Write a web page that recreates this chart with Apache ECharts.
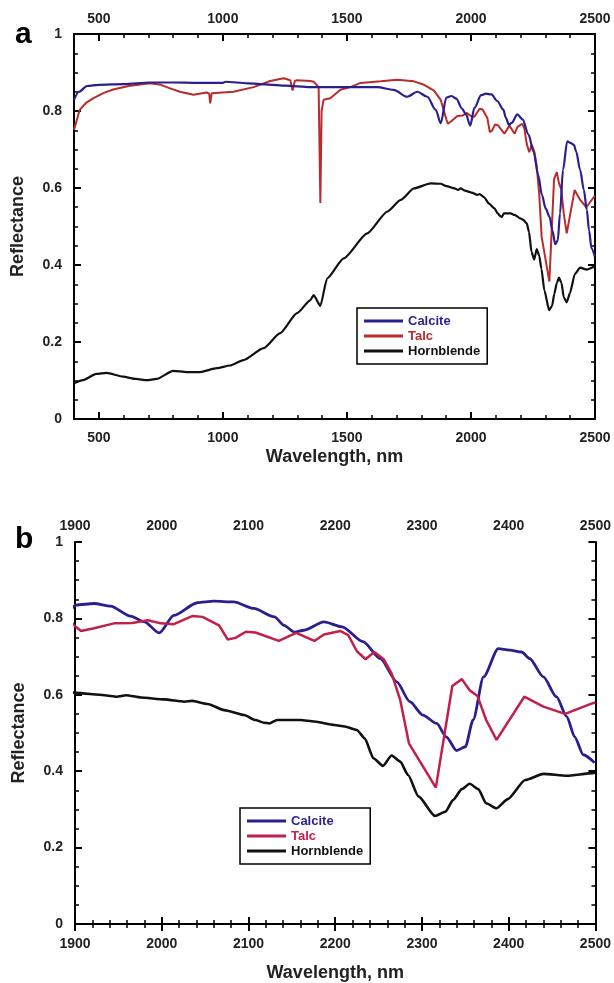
<!DOCTYPE html>
<html>
<head>
<meta charset="utf-8">
<script src="https://cdn.jsdelivr.net/npm/echarts@6/dist/echarts.min.js"></script>
<style>
  html, body { margin: 0; padding: 0; background: #fff; }
  #chart { width: 614px; height: 983px; }
</style>
</head>
<body>
<div id="chart"></div>
<script>
// wavelength (nm) / reflectance
var calciteNm = [400, 420, 453, 500, 600, 706, 800, 900, 1000, 1010, 1100, 1150, 1250, 1354, 1450, 1550, 1622, 1688, 1743, 1784, 1824, 1858, 1878,
  1901, 1922, 1941, 1964, 1980, 1997, 2014, 2041, 2060, 2083, 2106, 2130, 2141, 2153, 2164, 2187, 2208, 2232, 2252, 2271, 2286, 2301,
  2317, 2328, 2340, 2350, 2359, 2371, 2388, 2401, 2415, 2424, 2440, 2455, 2467, 2476, 2486, 2499];
var calciteR = [0.829, 0.850, 0.865, 0.868, 0.870, 0.874, 0.874, 0.873, 0.873, 0.876, 0.872, 0.870, 0.866, 0.862, 0.862, 0.862, 0.862, 0.855, 0.837, 0.850, 0.837, 0.803, 0.768,
  0.835, 0.839, 0.832, 0.806, 0.791, 0.762, 0.808, 0.841, 0.845, 0.843, 0.826, 0.804, 0.782, 0.764, 0.769, 0.791, 0.778, 0.739, 0.695, 0.634, 0.582, 0.547,
  0.525, 0.490, 0.454, 0.464, 0.534, 0.647, 0.721, 0.717, 0.712, 0.695, 0.647, 0.595, 0.543, 0.490, 0.443, 0.422];

var talcNm = [400, 423, 450, 477, 520, 558, 620, 706, 750, 790, 827, 881, 935, 945, 949, 955, 962, 1043, 1124, 1191, 1245, 1272, 1281, 1290, 1299, 1353, 1366,
  1386, 1393, 1398, 1406, 1433, 1474, 1514, 1555, 1636, 1703, 1770, 1811, 1851, 1878,
  1901, 1907, 1922, 1945, 1966, 1984, 1999, 2014, 2035, 2047, 2066, 2076, 2085, 2097, 2108, 2135, 2155, 2176, 2187, 2206, 2215, 2225,
  2235, 2245, 2256, 2265, 2275, 2285, 2316, 2335, 2346, 2355, 2364, 2374, 2386, 2418, 2440, 2465, 2497, 2500];
var talcR = [0.751, 0.803, 0.822, 0.833, 0.847, 0.856, 0.865, 0.872, 0.868, 0.858, 0.850, 0.842, 0.848, 0.845, 0.820, 0.846, 0.848, 0.850, 0.862, 0.878, 0.885, 0.880, 0.853, 0.878, 0.880, 0.878, 0.876,
  0.862, 0.561, 0.800, 0.829, 0.833, 0.855, 0.862, 0.873, 0.877, 0.881, 0.877, 0.868, 0.853, 0.829,
  0.778, 0.767, 0.774, 0.787, 0.788, 0.795, 0.787, 0.785, 0.806, 0.804, 0.782, 0.745, 0.749, 0.765, 0.763, 0.741, 0.762, 0.741, 0.758, 0.767, 0.756, 0.714,
  0.693, 0.712, 0.693, 0.656, 0.586, 0.473, 0.357, 0.623, 0.641, 0.612, 0.597, 0.534, 0.482, 0.595, 0.569, 0.550, 0.578, 0.580];

var hornNm = [400, 436, 490, 531, 598, 650, 693, 733, 800, 854, 908, 976, 1029, 1083, 1164, 1231, 1299, 1353, 1366, 1393, 1420, 1487, 1582, 1663, 1717, 1770, 1838, 1878,
  1901, 1934, 1948, 1959, 1976, 2003, 2026, 2035, 2053, 2072, 2095, 2108, 2118, 2124, 2133, 2160, 2176, 2199, 2211, 2225, 2234, 2244, 2255,
  2265, 2275, 2284, 2296, 2315, 2327, 2336, 2346, 2355, 2365, 2374, 2386, 2399, 2419, 2440, 2467, 2497, 2500];
var hornR = [0.093, 0.101, 0.117, 0.120, 0.110, 0.104, 0.101, 0.104, 0.125, 0.122, 0.122, 0.132, 0.139, 0.153, 0.184, 0.223, 0.275, 0.309, 0.322, 0.294, 0.365, 0.417, 0.482, 0.539, 0.569, 0.599, 0.612, 0.611,
  0.605, 0.599, 0.595, 0.599, 0.593, 0.588, 0.582, 0.584, 0.576, 0.560, 0.547, 0.534, 0.527, 0.525, 0.534, 0.534, 0.530, 0.521, 0.517, 0.508, 0.486, 0.434, 0.414,
  0.441, 0.425, 0.390, 0.334, 0.283, 0.294, 0.325, 0.353, 0.367, 0.353, 0.316, 0.303, 0.327, 0.377, 0.393, 0.388, 0.395, 0.396];

var xMajorA = [500, 1000, 1500, 2000, 2500];
var mineralNames = ['Calcite', 'Talc', 'Hornblende'];

var FONT = 'Liberation Sans, Arial, sans-serif';
var BLUE = '#2a1f8f', RED_A = '#b82c2c', RED_B = '#c21f4a', BLACK = '#111';

function zip(xs, ys) {
  return xs.map(function (x, i) { return [x, ys[i]]; });
}
function plain(v) { return String(v); }

var chart = echarts.init(document.getElementById('chart'));

var lbl = { fontFamily: FONT, fontWeight: 'bold', fontSize: 14, color: '#222', formatter: plain };
var axLine = { show: true, lineStyle: { color: '#000', width: 2 } };

function xMain(grid, pos, min, max, extra) {
  var o = {
    type: 'value', gridIndex: grid, position: pos, min: min, max: max,
    axisLine: axLine, splitLine: { show: false },
    axisTick: { show: true, inside: true, length: 7, lineStyle: { color: '#000', width: 2 } },
    axisLabel: Object.assign({ margin: 10 }, lbl)
  };
  return Object.assign(o, extra || {});
}

function yAxis(grid, pos, showLabel, extra) {
  var o = {
    type: 'value', gridIndex: grid, position: pos, min: 0, max: 1, interval: 0.2,
    axisLine: axLine, splitLine: { show: false },
    axisTick: { show: true, inside: true, length: 7, lineStyle: { color: '#000', width: 2 } },
    minorTick: { show: true, splitNumber: 4, length: 4, lineStyle: { color: '#000', width: 1.5 } },
    axisLabel: Object.assign({ show: showLabel, margin: 12 }, lbl)
  };
  return Object.assign(o, extra || {});
}

var nameStyle = { fontFamily: FONT, fontWeight: 'bold', fontSize: 18, color: '#222' };

function legendFor(left, top, talcColor) {
  var cols = [BLUE, talcColor, BLACK];
  return {
    left: left, top: top, orient: 'vertical',
    padding: [6, 7, 6, 7], itemGap: 1, itemWidth: 39, itemHeight: 3, icon: 'rect',
    borderColor: '#000', borderWidth: 1.5, backgroundColor: '#fff',
    textStyle: { fontFamily: FONT, fontWeight: 'bold', fontSize: 13, lineHeight: 14 },
    selectedMode: false,
    data: mineralNames.map(function (n, i) {
      return { name: n, itemStyle: { color: cols[i] }, textStyle: { color: cols[i] } };
    })
  };
}

function lineSeries(name, data, color, xi, yi, width, smooth) {
  return {
    name: name, type: 'line', data: data, xAxisIndex: xi, yAxisIndex: yi,
    showSymbol: false, symbol: 'none', smooth: smooth, smoothMonotone: 'x',
    lineStyle: { color: color, width: width }, itemStyle: { color: color },
    animation: false, z: 3
  };
}

chart.setOption({
  animation: false,
  backgroundColor: '#fff',
  grid: [
    { left: 74, right: 19, top: 34, height: 385 },
    { left: 75, right: 18, top: 542, height: 382 }
  ],
  xAxis: [
    // panel a
    xMain(0, 'bottom', 400, 2500, {
      axisTick: { show: true, inside: true, length: 7, customValues: xMajorA, lineStyle: { color: '#000', width: 2 } },
      axisLabel: Object.assign({}, lbl, { margin: 12, customValues: xMajorA }),
      name: 'Wavelength, nm', nameLocation: 'middle', nameGap: 29, nameTextStyle: nameStyle
    }),
    xMain(0, 'bottom', 400, 2500, {
      interval: 100, axisLine: { show: false }, axisLabel: { show: false },
      axisTick: { show: true, inside: true, length: 4, lineStyle: { color: '#000', width: 1.5 } }
    }),
    xMain(0, 'top', 400, 2500, {
      axisTick: { show: true, inside: true, length: 7, customValues: xMajorA, lineStyle: { color: '#000', width: 2 } },
      axisLabel: Object.assign({}, lbl, { margin: 8, customValues: xMajorA })
    }),
    xMain(0, 'top', 400, 2500, {
      interval: 100, axisLine: { show: false }, axisLabel: { show: false },
      axisTick: { show: true, inside: true, length: 4, lineStyle: { color: '#000', width: 1.5 } }
    }),
    // panel b
    xMain(1, 'bottom', 1900, 2500, {
      interval: 100,
      minorTick: { show: true, splitNumber: 5, length: 4, lineStyle: { color: '#000', width: 1.5 } },
      axisLabel: Object.assign({}, lbl, { margin: 13 }),
      name: 'Wavelength, nm', nameLocation: 'middle', nameGap: 40, nameTextStyle: nameStyle
    }),
    xMain(1, 'top', 1900, 2500, {
      interval: 100,
      minorTick: { show: true, splitNumber: 5, length: 4, lineStyle: { color: '#000', width: 1.5 } },
      axisLabel: Object.assign({}, lbl, { margin: 9 })
    })
  ],
  yAxis: [
    yAxis(0, 'left', true, { name: 'Reflectance', nameLocation: 'middle', nameGap: 47, nameRotate: 90, nameTextStyle: nameStyle }),
    yAxis(0, 'right', false),
    yAxis(1, 'left', true, { name: 'Reflectance', nameLocation: 'middle', nameGap: 47, nameRotate: 90, nameTextStyle: nameStyle }),
    yAxis(1, 'right', false)
  ],
  legend: [legendFor(357, 308, RED_A), legendFor(240, 808, RED_B)],
  graphic: [
    { type: 'text', left: 15, top: 20, style: { text: 'a', fontFamily: FONT, fontWeight: 'bold', fontSize: 30, fill: '#000' } },
    { type: 'text', left: 15, top: 525, style: { text: 'b', fontFamily: FONT, fontWeight: 'bold', fontSize: 30, fill: '#000' } }
  ],
  series: [
    lineSeries('Hornblende', zip(hornNm, hornR), BLACK, 0, 0, 2.2, 0.2),
    lineSeries('Talc', zip(talcNm, talcR), RED_A, 0, 0, 2, false),
    lineSeries('Calcite', zip(calciteNm, calciteR), BLUE, 0, 0, 2.2, 0.3),
    lineSeries('Hornblende', zip(hornNm, hornR), BLACK, 4, 2, 2.6, 0.2),
    lineSeries('Calcite', zip(calciteNm, calciteR), BLUE, 4, 2, 2.8, 0.25),
    lineSeries('Talc', zip(talcNm, talcR), RED_B, 4, 2, 2.5, false)
  ]
});
</script>
</body>
</html>
